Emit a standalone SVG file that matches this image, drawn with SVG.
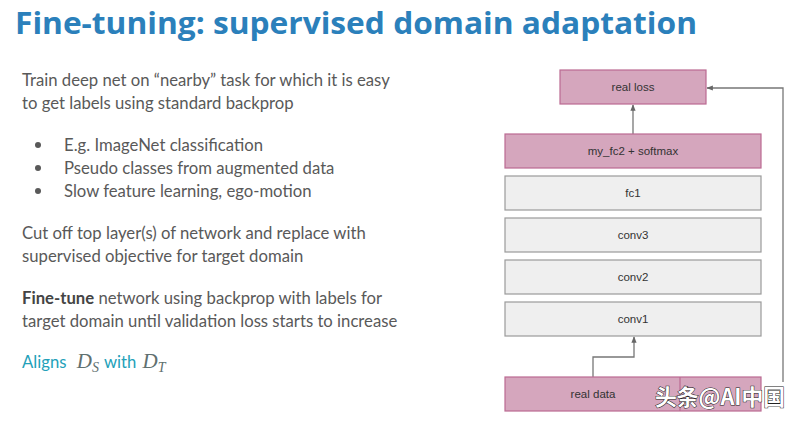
<svg xmlns="http://www.w3.org/2000/svg" width="800" height="422" viewBox="0 0 800 422">
<defs>
<style>
.title{font-family:"Open Sans","Liberation Sans",sans-serif;font-weight:700;font-size:30px;fill:#2b80bb}
.body{font-family:Lato,"Liberation Sans",sans-serif;font-size:16.7px;fill:#595959}
.teal{font-family:Lato,"Liberation Sans",sans-serif;font-size:16.7px;fill:#23a1b9}
.math{font-family:"Liberation Serif",serif;font-style:italic;fill:#607070}
.pink{fill:#d5a6bd;stroke:#bb6a92;stroke-width:1.2}
.gray{fill:#efefef;stroke:#9a9a9a;stroke-width:1.2}
.lbl{font-family:"Liberation Sans",Arial,sans-serif;font-size:11.5px;fill:#333;text-anchor:middle}
.conn{fill:none;stroke:#777;stroke-width:1.3}
.wm{font-family:"Noto Sans CJK SC","Liberation Sans",sans-serif;font-size:22px;font-weight:700;fill:#fff;stroke:#222;stroke-width:1;paint-order:stroke}
</style>
<marker id="ah" viewBox="0 0 10 10" refX="9" refY="5" markerWidth="5" markerHeight="5" orient="auto">
<path d="M0,1 L10,5 L0,9 z" fill="#666"/>
</marker>
</defs>
<rect width="800" height="422" fill="#fff"/>
<text class="title" x="15" y="34" textLength="682" lengthAdjust="spacingAndGlyphs">Fine-tuning: supervised domain adaptation</text>

<text class="body" x="22" y="86">Train deep net on “nearby” task for which it is easy</text>
<text class="body" x="22" y="109">to get labels using standard backprop</text>
<circle cx="38" cy="145" r="3" fill="#595959"/>
<circle cx="38" cy="168" r="3" fill="#595959"/>
<circle cx="38" cy="191" r="3" fill="#595959"/>
<text class="body" x="64" y="151">E.g. ImageNet classification</text>
<text class="body" x="64" y="174">Pseudo classes from augmented data</text>
<text class="body" x="64" y="197">Slow feature learning, ego-motion</text>
<text class="body" x="22" y="239">Cut off top layer(s) of network and replace with</text>
<text class="body" x="22" y="262">supervised objective for target domain</text>
<text class="body" x="22" y="304"><tspan font-weight="700" fill="#444">Fine-tune</tspan> network using backprop with labels for</text>
<text class="body" x="22" y="327">target domain until validation loss starts to increase</text>
<text x="22" y="368"><tspan class="teal">Aligns </tspan><tspan class="math" font-size="21" dx="6">D</tspan><tspan class="math" font-size="14" dy="4">S</tspan><tspan class="teal" dy="-4" dx="5">with </tspan><tspan class="math" font-size="21" dx="2">D</tspan><tspan class="math" font-size="14" dy="4">T</tspan></text>

<g id="connectors">
<path class="conn" d="M633,134 V105" marker-end="url(#ah)"/>
<path class="conn" d="M783,382 V88 H707" marker-end="url(#ah)"/>
<path class="conn" d="M593,377 V357 H634 V337" marker-end="url(#ah)"/>
</g>

<g id="real-loss"><rect class="pink" x="560" y="70" width="146" height="34"/><text class="lbl" x="633" y="91">real loss</text></g>
<g id="my-fc2"><rect class="pink" x="505" y="134" width="256" height="34"/><text class="lbl" x="633" y="155">my_fc2 + softmax</text></g>
<g id="fc1"><rect class="gray" x="505" y="176" width="256" height="34"/><text class="lbl" x="633" y="197">fc1</text></g>
<g id="conv3"><rect class="gray" x="505" y="218" width="256" height="34"/><text class="lbl" x="633" y="239">conv3</text></g>
<g id="conv2"><rect class="gray" x="505" y="260" width="256" height="34"/><text class="lbl" x="633" y="281">conv2</text></g>
<g id="conv1"><rect class="gray" x="505" y="302" width="256" height="34"/><text class="lbl" x="633" y="323">conv1</text></g>
<g id="real-data"><rect class="pink" x="505" y="377" width="256" height="34"/><line x1="680" y1="377" x2="680" y2="411" stroke="#bb6a92" stroke-width="1.2"/><text class="lbl" x="593" y="398">real data</text></g>

<text class="wm" x="655" y="405" textLength="130" lengthAdjust="spacingAndGlyphs">头条@AI中国</text>
</svg>
